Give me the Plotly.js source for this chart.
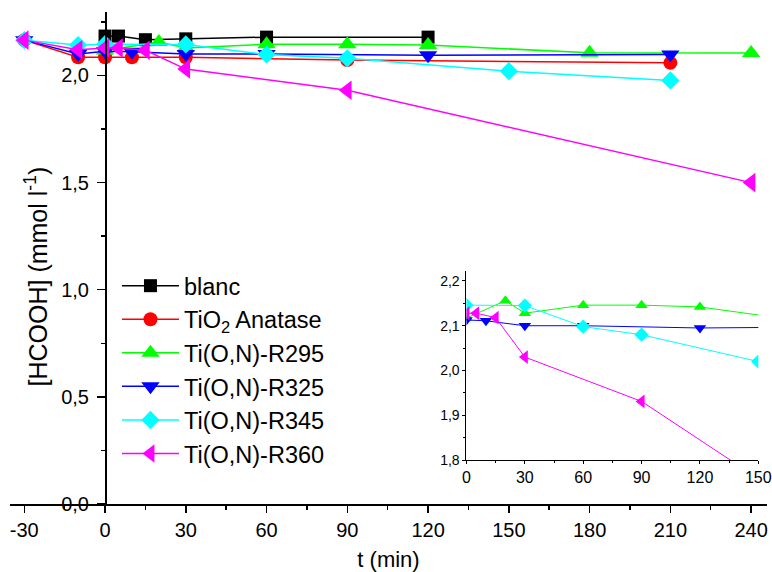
<!DOCTYPE html>
<html>
<head>
<meta charset="utf-8">
<script src="https://cdn.plot.ly/plotly-3.0.1.min.js"></script>
<style>html,body{margin:0;padding:0;background:#fff;}#chart{width:772px;height:572px;}</style>
</head>
<body>
<div id="chart"></div>
<script>
// ---- data (t in min, [HCOOH] in mmol/l) ----
const seriesNames = ['blanc', 'TiO<sub>2</sub> Anatase', 'Ti(O,N)-R295', 'Ti(O,N)-R325', 'Ti(O,N)-R345', 'Ti(O,N)-R360'];

const blancT = [0, 5, 15, 30, 60, 120];
const blancY = [2.184, 2.184, 2.167, 2.171, 2.179, 2.179];

const tio2T = [-30, -10, 0, 10, 30, 90, 210];
const tio2Y = [2.165, 2.085, 2.085, 2.085, 2.085, 2.072, 2.059];

const r295T = [0, 20, 30, 60, 90, 120, 180, 240];
const r295Y = [2.117, 2.156, 2.128, 2.146, 2.146, 2.142, 2.106, 2.105];

const r325T = [-30, -10, 0, 10, 30, 60, 120, 210];
const r325Y = [2.165, 2.100, 2.113, 2.111, 2.100, 2.100, 2.095, 2.098];

const r345T = [-30, -10, 0, 30, 60, 90, 150, 210];
const r345Y = [2.165, 2.142, 2.146, 2.145, 2.098, 2.080, 2.020, 1.977];

const r360T = [-30, -10, 0, 5, 15, 30, 90, 240];
const r360Y = [2.165, 2.120, 2.128, 2.128, 2.118, 2.030, 1.931, 1.500];

const xTickVals = [-30, 0, 30, 60, 90, 120, 150, 180, 210, 240];
const xTickText = ['-30', '0', '30', '60', '90', '120', '150', '180', '210', '240'];
const insetXTicks = [0, 30, 60, 90, 120, 150];

// ---- styles ----
const colors = ['#000000', '#ff0000', '#00ff00', '#0000ff', '#00ffff', '#ff00ff'];
const symbols = ['square', 'circle', 'triangle-up', 'triangle-down', 'diamond', 'triangle-left'];
const mainSizes = [13, 14, 16, 16, 14, 17];
const insetSizes = [9, 10, 11, 11, 11, 12];

const allT = [blancT, tio2T, r295T, r325T, r345T, r360T];
const allY = [blancY, tio2Y, r295Y, r325Y, r345Y, r360Y];

const traces = [];
for (let i = 0; i < 6; i++) {
  traces.push({
    x: allT[i], y: allY[i], name: seriesNames[i], type: 'scatter', mode: 'lines+markers',
    line: {color: colors[i], width: 1.5},
    marker: {color: colors[i], symbol: symbols[i], size: mainSizes[i], line: {width: 0}},
    xaxis: 'x', yaxis: 'y'
  });
}
// inset: R295, R325, R345, R360
for (let i = 2; i < 6; i++) {
  traces.push({
    x: allT[i], y: allY[i], name: seriesNames[i], type: 'scatter', mode: 'lines+markers',
    showlegend: false,
    line: {color: colors[i], width: 1},
    marker: {color: colors[i], symbol: symbols[i], size: insetSizes[i], line: {width: 0}},
    xaxis: 'x2', yaxis: 'y2'
  });
}

const FONT = 'Liberation Sans, Arial, sans-serif';

const layout = {
  width: 772, height: 572,
  margin: {l: 10, r: 5, t: 12, b: 68, pad: 0},
  paper_bgcolor: '#ffffff', plot_bgcolor: 'rgba(0,0,0,0)',
  separators: ', ',
  font: {family: FONT, color: '#000', size: 20},
  showlegend: true,
  legend: {
    x: 0.1413, y: 0.488, xanchor: 'left', yanchor: 'top',
    bgcolor: 'rgba(0,0,0,0)', borderwidth: 0,
    font: {family: FONT, size: 23.5, color: '#000'},
    itemwidth: 57, traceorder: 'normal'
  },
  xaxis: {
    domain: [0, 1], range: [-35.3, 245.9], anchor: 'y',
    tickmode: 'array', tickvals: xTickVals, ticktext: xTickText,
    showgrid: false, zeroline: false, showline: true, linecolor: '#000', linewidth: 1.5,
    ticks: 'outside', ticklen: 7, tickwidth: 1.5, tickcolor: '#000',
    minor: {dtick: 15, tick0: 0, ticks: 'outside', ticklen: 4, tickwidth: 1.5, tickcolor: '#000', showgrid: false},
    tickfont: {size: 20, family: FONT},
    title: {text: 't (min)', font: {size: 22, family: FONT}, standoff: 16}
  },
  yaxis: {
    domain: [0, 1], range: [0, 2.2963], anchor: 'free', position: 0.1255,
    dtick: 0.5, tick0: 0, tickformat: '.1f',
    showgrid: false, zeroline: false, showline: true, linecolor: '#000', linewidth: 1.5,
    ticks: 'outside', ticklen: 8, tickwidth: 1.5, tickcolor: '#000',
    minor: {dtick: 0.25, tick0: 0, ticks: 'outside', ticklen: 4, tickwidth: 1.5, tickcolor: '#000', showgrid: false},
    tickfont: {size: 20, family: FONT},
    ticklabelstandoff: 4
  },
  xaxis2: {
    domain: [0.6030, 0.9885], range: [0, 150], anchor: 'y2',
    tickmode: 'array', tickvals: insetXTicks,
    showgrid: false, zeroline: false, showline: true, linecolor: '#000', linewidth: 1,
    ticks: 'outside', ticklen: 3, tickwidth: 1, tickcolor: '#000',
    minor: {dtick: 15, tick0: 0, ticks: 'outside', ticklen: 2, tickwidth: 1, tickcolor: '#000', showgrid: false},
    tickfont: {size: 16, family: FONT}
  },
  yaxis2: {
    domain: [0.0894, 0.4736], range: [1.8, 2.2223], anchor: 'x2',
    dtick: 0.1, tick0: 0, tickformat: '.1f',
    showgrid: false, zeroline: false, showline: true, linecolor: '#000', linewidth: 1,
    ticks: 'outside', ticklen: 3, tickwidth: 1, tickcolor: '#000',
    minor: {dtick: 0.05, tick0: 0, ticks: 'outside', ticklen: 2, tickwidth: 1, tickcolor: '#000', showgrid: false},
    tickfont: {size: 14, family: FONT}
  },
  annotations: [{
    text: '[HCOOH] (mmol l<sup>-1</sup>)', xref: 'paper', yref: 'paper',
    x: 0.035, y: 0.4634, xanchor: 'center', yanchor: 'middle', textangle: -90,
    showarrow: false, font: {size: 25, family: FONT, color: '#000'}
  }]
};

Plotly.newPlot('chart', traces, layout, {displayModeBar: false, staticPlot: true});
</script>
</body>
</html>
